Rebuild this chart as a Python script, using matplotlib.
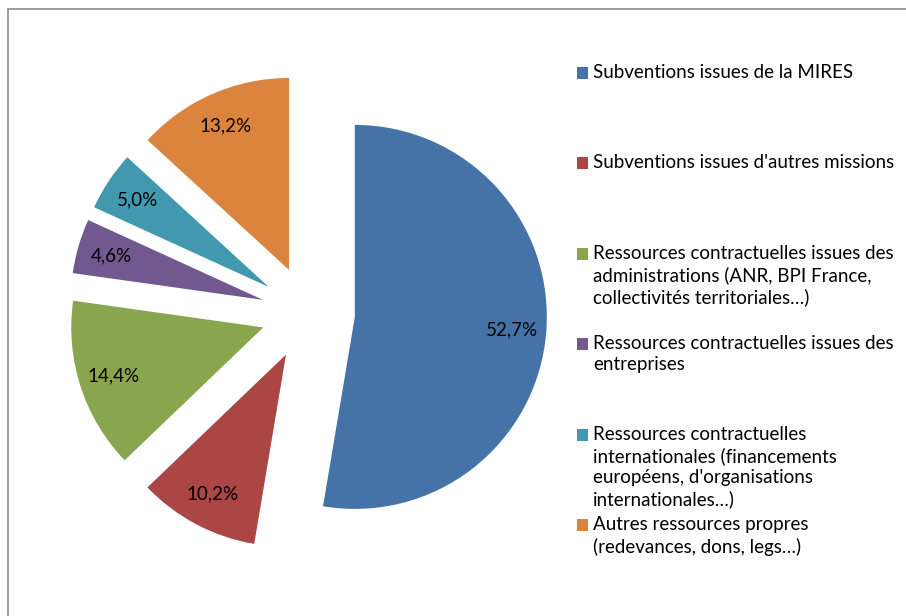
import matplotlib
matplotlib.use('Agg')
import matplotlib.pyplot as plt
from matplotlib.patches import Rectangle

labels = [
    "Subventions issues de la MIRES",
    "Subventions issues d'autres missions",
    "Ressources contractuelles issues des\nadministrations (ANR, BPI France,\ncollectivités territoriales…)",
    "Ressources contractuelles issues des\nentreprises",
    "Ressources contractuelles\ninternationales (financements\neuropéens, d'organisations\ninternationales…)",
    "Autres ressources propres\n(redevances, dons, legs…)",
]
values = [52.7, 10.2, 14.4, 4.6, 5.0, 13.2]
colors = ['#4572A7', '#AA4643', '#89A54E', '#71588F', '#4198AF', '#DB843D']

plt.rcParams['font.family'] = ['Lato', 'DejaVu Sans']

W, H = 906, 616
fig = plt.figure(figsize=(W / 100, H / 100), dpi=100)
ax = fig.add_axes([0, 0, 1, 1])

# explode is in data units here (pixels)
wedges, texts, pcts = ax.pie(values, colors=colors, startangle=90, counterclock=False,
                             center=(308, H - 313), radius=192,
                             explode=[47] * len(values), autopct='%1.1f',
                             pctdistance=0.82, frame=True,
                             textprops=dict(fontsize=13.5, color='black'),
                             wedgeprops=dict(linewidth=0))
ax.set_xlim(0, W)
ax.set_ylim(0, H)
ax.set_aspect('equal')
ax.axis('off')
for t, v in zip(pcts, values):
    t.set_text(f"{v:.1f}%".replace('.', ','))

# outer border (only top and left visible)
ax.add_patch(Rectangle((8, -10), W + 20, H - 9 + 10, fill=False,
                       edgecolor='#8c8c8c', linewidth=1.2, clip_on=False))

# legend
for i, (lab, c) in enumerate(zip(labels, colors)):
    y = H - (73 + i * 90.4)
    ax.add_patch(Rectangle((577, y - 6), 11, 12, facecolor=c, edgecolor='none'))
    ax.text(593, y + 9, lab, fontsize=13.5, va='top', ha='left', linespacing=1.3)

fig.savefig('out.png', dpi=100)
